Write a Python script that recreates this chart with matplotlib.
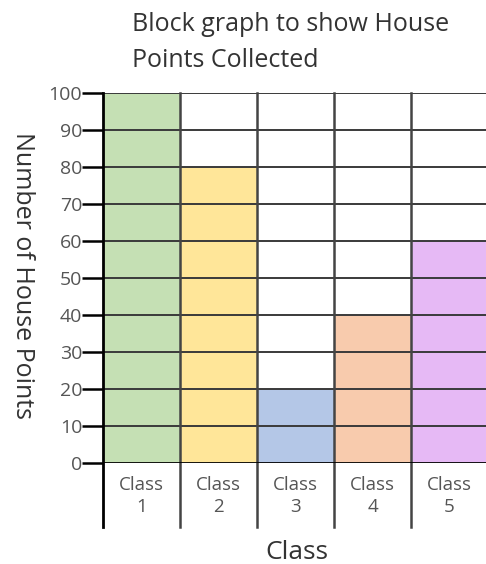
#!/usr/bin/env python3
"""Block graph of house points collected per class."""

import matplotlib
matplotlib.use("Agg")
import matplotlib.pyplot as plt

# Data
classes = ["Class\n1", "Class\n2", "Class\n3", "Class\n4", "Class\n5"]
points = [100, 80, 20, 40, 60]
bar_colors = ["#c5e0b4", "#ffe699", "#b4c7e7", "#f8cbad", "#e6b9f5"]
y_ticks = list(range(0, 101, 10))

plt.rcParams["font.family"] = ["Open Sans", "DejaVu Sans"]

fig = plt.figure(figsize=(4.86, 5.64), dpi=100)
W, H = 486, 564
# axes box in pixel units: left 103, right ~488 (runs off the edge), bottom 463, top 93
ax = fig.add_axes([103 / W, (H - 463) / H, 385 / W, 370 / H])

xs = [i + 0.5 for i in range(len(classes))]
ax.bar(xs, points, width=1.0, color=bar_colors, edgecolor="none", zorder=1)

ax.set_xlim(0, 5)
ax.set_ylim(0, 100)

# grid
for yv in y_ticks[1:]:
    ax.axhline(yv, color="#3a3a3a", lw=1.4, zorder=2)
px_per_unit = 370 / 100
drop = 64 / px_per_unit
for i in range(1, len(classes) + 1):
    ax.plot([i, i], [-drop, 100], color="#444444", lw=1.8, zorder=2, clip_on=False)
ax.plot([0, 0], [-drop, 100], color="black", lw=2.0, zorder=3, clip_on=False)

for s in ax.spines.values():
    s.set_visible(False)
ax.axhline(0, color="black", lw=2.0, zorder=3)

ax.set_yticks(y_ticks)
ax.tick_params(axis="y", length=15, width=1.8, color="black", labelcolor="#555555",
               labelsize=14, pad=0)
ax.set_xticks([])

for x, label in zip(xs, classes):
    ax.text(x, -8.9, label, ha="center", va="center", fontsize=13.5, color="#555555",
            linespacing=1.3, clip_on=False)

fig.text(297 / W, 1 - 559 / H, "Class", ha="center", va="baseline", fontsize=19, color="#333333")
fig.text(22 / W, 1 - 276 / H, "Number of House Points", ha="center", va="center",
         rotation=-90, fontsize=18, color="#333333")
fig.text(132 / W, 1 - 31 / H, "Block graph to show House", ha="left",
         va="baseline", fontsize=18, color="#333333")
fig.text(132 / W, 1 - 67 / H, "Points Collected", ha="left",
         va="baseline", fontsize=18, color="#333333")

fig.savefig("out.png", dpi=100)
plt.close(fig)
